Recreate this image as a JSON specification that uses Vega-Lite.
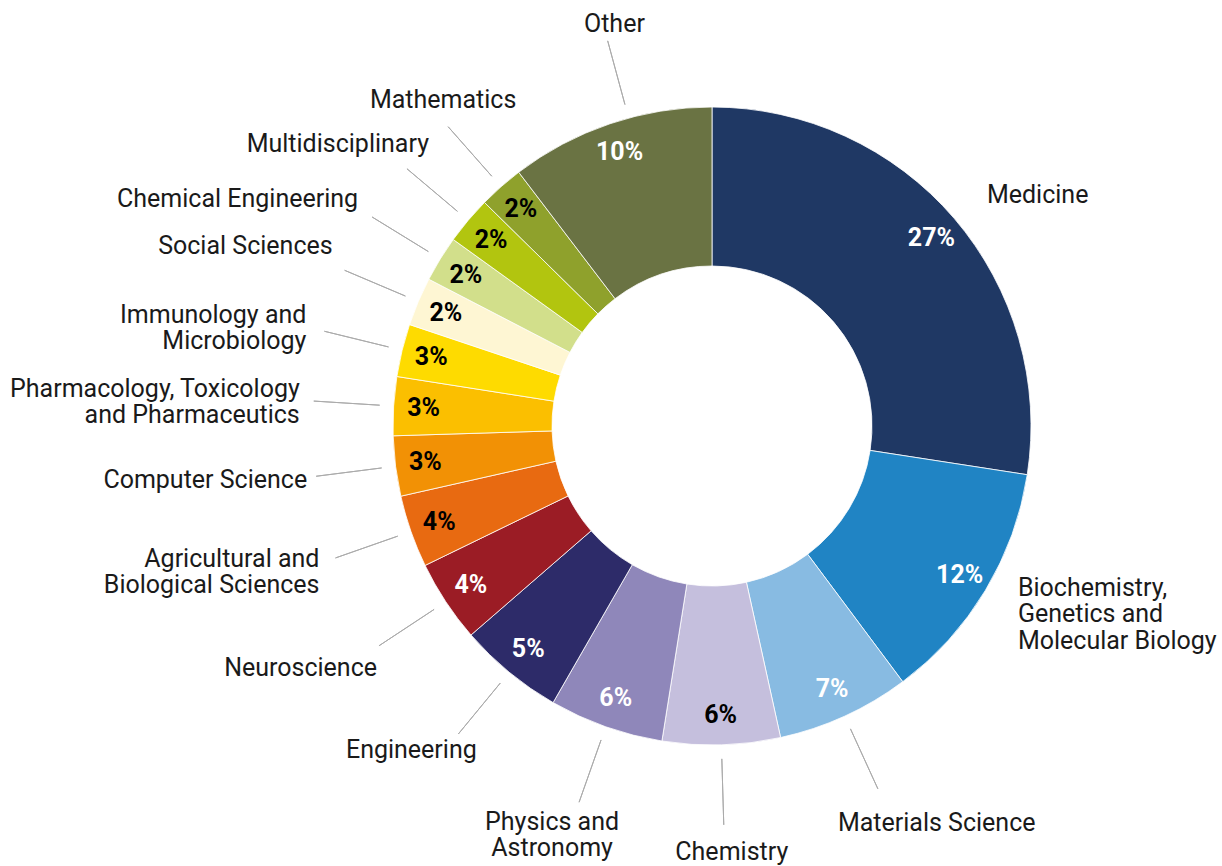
{
  "$schema": "https://vega.github.io/schema/vega-lite/v6.json",
  "width": 1020,
  "height": 852,
  "autosize": {"type": "none"},
  "padding": {"left": 202, "top": 0, "right": 0, "bottom": 14},
  "background": "#ffffff",
  "view": {"stroke": null},
  "data": {
    "values": [
      {"rank": 1, "cat": "Medicine", "label": "Medicine", "value": 0.2744},
      {"rank": 2, "cat": "Biochemistry, Genetics and Molecular Biology", "label": "Biochemistry,\nGenetics and\nMolecular Biology", "value": 0.1236},
      {"rank": 3, "cat": "Materials Science", "label": "Materials Science", "value": 0.0675},
      {"rank": 4, "cat": "Chemistry", "label": "Chemistry", "value": 0.0596},
      {"rank": 5, "cat": "Physics and Astronomy", "label": "Physics and\u00a0\nAstronomy", "value": 0.0579},
      {"rank": 6, "cat": "Engineering", "label": "Engineering", "value": 0.0533},
      {"rank": 7, "cat": "Neuroscience", "label": "Neuroscience", "value": 0.0417},
      {"rank": 8, "cat": "Agricultural and Biological Sciences", "label": "Agricultural and\u00a0\nBiological Sciences", "value": 0.0367},
      {"rank": 9, "cat": "Computer Science", "label": "Computer Science", "value": 0.0304},
      {"rank": 10, "cat": "Pharmacology, Toxicology and Pharmaceutics", "label": "Pharmacology, Toxicology\u00a0\nand Pharmaceutics", "value": 0.0297},
      {"rank": 11, "cat": "Immunology and Microbiology", "label": "Immunology and\u00a0\nMicrobiology", "value": 0.0267},
      {"rank": 12, "cat": "Social Sciences", "label": "Social Sciences", "value": 0.0246},
      {"rank": 13, "cat": "Chemical Engineering", "label": "Chemical Engineering", "value": 0.0233},
      {"rank": 14, "cat": "Multidisciplinary", "label": "Multidisciplinary", "value": 0.0242},
      {"rank": 15, "cat": "Mathematics", "label": "Mathematics", "value": 0.0228},
      {"rank": 16, "cat": "Other", "label": "Other", "value": 0.1036}
    ]
  },
  "encoding": {
    "theta": {"field": "value", "type": "quantitative", "stack": true},
    "order": {"field": "rank", "type": "quantitative"},
    "detail": {"field": "cat", "type": "nominal"}
  },
  "layer": [
    {
      "mark": {"type": "arc", "outerRadius": 319, "innerRadius": 160, "stroke": "#ffffff", "strokeWidth": 0.8},
      "encoding": {
        "color": {
          "field": "cat", "type": "nominal", "legend": null,
          "scale": {
            "domain": ["Medicine", "Biochemistry, Genetics and Molecular Biology", "Materials Science", "Chemistry", "Physics and Astronomy", "Engineering", "Neuroscience", "Agricultural and Biological Sciences", "Computer Science", "Pharmacology, Toxicology and Pharmaceutics", "Immunology and Microbiology", "Social Sciences", "Chemical Engineering", "Multidisciplinary", "Mathematics", "Other"],
            "range": ["#1f3864", "#2084c4", "#88bbe2", "#c5bfdd", "#8f87ba", "#2d2b69", "#9b1c25", "#e86a11", "#f29105", "#fbbf00", "#fedb00", "#fef6d3", "#d2df8b", "#b2c50f", "#8fa12c", "#6a7343"]
          }
        }
      }
    },
    {
      "mark": {"type": "arc", "outerRadius": 399, "innerRadius": 333, "padAngle": 3, "filled": false, "stroke": "#ababab", "strokeWidth": 1},
      "encoding": {
        "strokeOpacity": {"condition": {"test": "datum.cat === 'Medicine' || datum.cat === 'Other' || datum.rank === 2", "value": 0}, "value": 1}
      }
    },
    {
      "mark": {"type": "arc", "outerRadius": 399, "innerRadius": 333, "padAngle": 3, "filled": false, "stroke": "#ababab", "strokeWidth": 1, "thetaOffset": 0.061},
      "encoding": {
        "strokeOpacity": {"condition": {"test": "datum.cat === 'Other'", "value": 1}, "value": 0}
      }
    },
    {
      "mark": {"type": "text", "radius": 289, "align": "center", "baseline": "middle", "font": "Roboto", "fontWeight": "bold", "fontSize": 25},
      "encoding": {
        "text": {"field": "value", "type": "quantitative", "format": ".0%"},
        "color": {"condition": {"test": "indexof(['Chemistry','Agricultural and Biological Sciences','Computer Science','Pharmacology, Toxicology and Pharmaceutics','Immunology and Microbiology','Social Sciences','Chemical Engineering','Multidisciplinary','Mathematics'], datum.cat) >= 0", "value": "#000000"}, "value": "#ffffff"}
      }
    },
    {"mark": {"type": "text", "radius": 399, "align": "center", "baseline": "alphabetic", "dx": 30, "dy": -16, "font": "Roboto", "fontSize": 25, "lineHeight": 26, "lineBreak": "\n", "color": "#1a1a1a"},
     "encoding": {"text": {"condition": {"test": "datum.cat === 'Other'", "field": "label"}, "value": ""}}},
    {"mark": {"type": "text", "radius": 399, "align": "center", "baseline": "alphabetic", "dx": -5, "dy": -19, "font": "Roboto", "fontSize": 25, "lineHeight": 26, "lineBreak": "\n", "color": "#1a1a1a"},
     "encoding": {"text": {"condition": {"test": "datum.cat === 'Mathematics'", "field": "label"}, "value": ""}}},
    {"mark": {"type": "text", "radius": 399, "align": "right", "baseline": "alphabetic", "dx": 22, "dy": -17, "font": "Roboto", "fontSize": 25, "lineHeight": 26, "lineBreak": "\n", "color": "#1a1a1a"},
     "encoding": {"text": {"condition": {"test": "datum.cat === 'Multidisciplinary'", "field": "label"}, "value": ""}}},
    {"mark": {"type": "text", "radius": 399, "align": "right", "baseline": "alphabetic", "dx": -14, "dy": -10, "font": "Roboto", "fontSize": 25, "lineHeight": 26, "lineBreak": "\n", "color": "#1a1a1a"},
     "encoding": {"text": {"condition": {"test": "datum.cat === 'Chemical Engineering'", "field": "label"}, "value": ""}}},
    {"mark": {"type": "text", "radius": 399, "align": "right", "baseline": "alphabetic", "dx": -12, "dy": -16, "font": "Roboto", "fontSize": 25, "lineHeight": 26, "lineBreak": "\n", "color": "#1a1a1a"},
     "encoding": {"text": {"condition": {"test": "datum.cat === 'Social Sciences'", "field": "label"}, "value": ""}}},
    {"mark": {"type": "text", "radius": 399, "align": "right", "baseline": "alphabetic", "dx": -18, "dy": -8, "font": "Roboto", "fontSize": 25, "lineHeight": 26, "lineBreak": "\n", "color": "#1a1a1a"},
     "encoding": {"text": {"condition": {"test": "datum.cat === 'Immunology and Microbiology'", "field": "label"}, "value": ""}}},
    {"mark": {"type": "text", "radius": 399, "align": "right", "baseline": "alphabetic", "dx": -14, "dy": -4, "font": "Roboto", "fontSize": 25, "lineHeight": 26, "lineBreak": "\n", "color": "#1a1a1a"},
     "encoding": {"text": {"condition": {"test": "datum.rank === 10", "field": "label"}, "value": ""}}},
    {"mark": {"type": "text", "radius": 399, "align": "right", "baseline": "alphabetic", "dx": -9, "dy": 12, "font": "Roboto", "fontSize": 25, "lineHeight": 26, "lineBreak": "\n", "color": "#1a1a1a"},
     "encoding": {"text": {"condition": {"test": "datum.cat === 'Computer Science'", "field": "label"}, "value": ""}}},
    {"mark": {"type": "text", "radius": 399, "align": "right", "baseline": "alphabetic", "dx": -16, "dy": 9, "font": "Roboto", "fontSize": 25, "lineHeight": 26, "lineBreak": "\n", "color": "#1a1a1a"},
     "encoding": {"text": {"condition": {"test": "datum.cat === 'Agricultural and Biological Sciences'", "field": "label"}, "value": ""}}},
    {"mark": {"type": "text", "radius": 399, "align": "right", "baseline": "alphabetic", "dx": -2, "dy": 30, "font": "Roboto", "fontSize": 25, "lineHeight": 26, "lineBreak": "\n", "color": "#1a1a1a"},
     "encoding": {"text": {"condition": {"test": "datum.cat === 'Neuroscience'", "field": "label"}, "value": ""}}},
    {"mark": {"type": "text", "radius": 399, "align": "center", "baseline": "alphabetic", "dx": -47, "dy": 24, "font": "Roboto", "fontSize": 25, "lineHeight": 26, "lineBreak": "\n", "color": "#1a1a1a"},
     "encoding": {"text": {"condition": {"test": "datum.cat === 'Engineering'", "field": "label"}, "value": ""}}},
    {"mark": {"type": "text", "radius": 399, "align": "center", "baseline": "alphabetic", "dx": -27, "dy": 28, "font": "Roboto", "fontSize": 25, "lineHeight": 26, "lineBreak": "\n", "color": "#1a1a1a"},
     "encoding": {"text": {"condition": {"test": "datum.cat === 'Physics and Astronomy'", "field": "label"}, "value": ""}}},
    {"mark": {"type": "text", "radius": 399, "align": "center", "baseline": "alphabetic", "dx": 8, "dy": 35, "font": "Roboto", "fontSize": 25, "lineHeight": 26, "lineBreak": "\n", "color": "#1a1a1a"},
     "encoding": {"text": {"condition": {"test": "datum.cat === 'Chemistry'", "field": "label"}, "value": ""}}},
    {"mark": {"type": "text", "radius": 399, "align": "left", "baseline": "alphabetic", "dx": -40, "dy": 42, "font": "Roboto", "fontSize": 25, "lineHeight": 26, "lineBreak": "\n", "color": "#1a1a1a"},
     "encoding": {"text": {"condition": {"test": "datum.cat === 'Materials Science'", "field": "label"}, "value": ""}}},
    {"mark": {"type": "text", "radius": 399, "align": "left", "baseline": "alphabetic", "dx": -28, "dy": 37, "font": "Roboto", "fontSize": 25, "lineHeight": 26, "lineBreak": "\n", "color": "#1a1a1a"},
     "encoding": {"text": {"condition": {"test": "datum.cat === 'Medicine'", "field": "label"}, "value": ""}}},
    {"mark": {"type": "text", "radius": 399, "align": "left", "baseline": "alphabetic", "dx": -36, "dy": -36, "font": "Roboto", "fontSize": 25, "lineHeight": 26.5, "lineBreak": "\n", "color": "#1a1a1a"},
     "encoding": {"text": {"condition": {"test": "datum.rank === 2", "field": "label"}, "value": ""}}}
  ]
}
